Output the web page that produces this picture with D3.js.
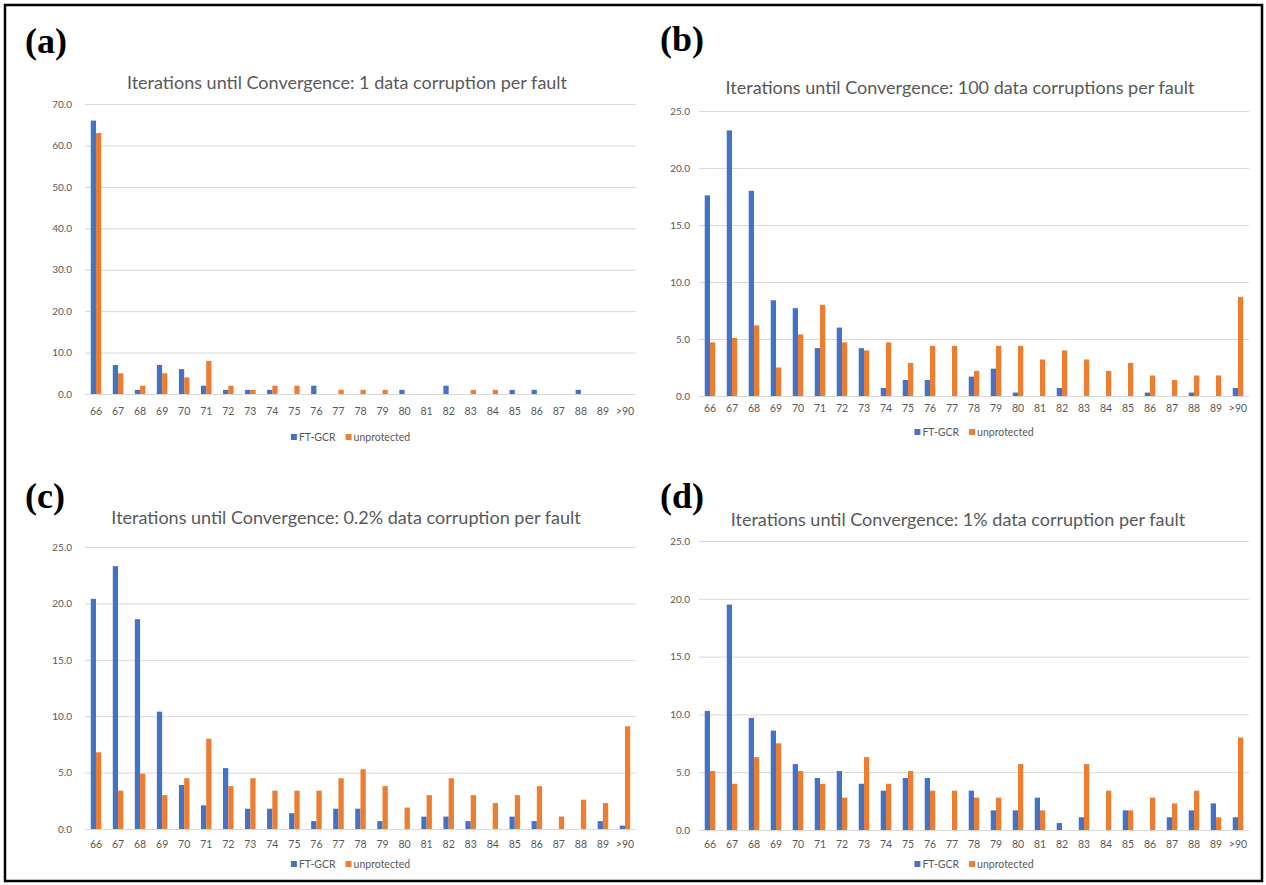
<!DOCTYPE html>
<html>
<head>
<meta charset="utf-8">
<script src="https://cdn.jsdelivr.net/npm/d3@7"></script>
<style>
  html, body { margin: 0; padding: 0; background: #fff; }
  svg { display: block; }
  .tick text { font-family: Lato, "Open Sans", sans-serif; fill: #595959; }
</style>
</head>
<body>
<svg id="fig" width="1266" height="885"></svg>
<script>
// Iteration counts until convergence (histogram bins)
const categories = ["66","67","68","69","70","71","72","73","74","75","76","77","78","79","80","81","82","83","84","85","86","87","88","89",">90"];
const seriesNames = ["FT-GCR", "unprotected"];

// (a) 1 data corruption per fault
const ftGcrA       = [66, 7, 1, 7, 6, 2, 1, 1, 1, 0, 2, 0, 0, 0, 1, 0, 2, 0, 0, 1, 1, 0, 1, 0, 0];
const unprotectedA = [63, 5, 2, 5, 4, 8, 2, 1, 2, 2, 0, 1, 1, 1, 0, 0, 0, 1, 1, 0, 0, 0, 0, 0, 0];

// (b) 100 data corruptions per fault
const ftGcrB       = [17.6, 23.3, 18.0, 8.4, 7.7, 4.2, 6.0, 4.2, 0.7, 1.4, 1.4, 0, 1.7, 2.4, 0.3, 0, 0.7, 0, 0, 0, 0.3, 0, 0.3, 0, 0.7];
const unprotectedB = [4.7, 5.1, 6.2, 2.5, 5.4, 8.0, 4.7, 4.0, 4.7, 2.9, 4.4, 4.4, 2.2, 4.4, 4.4, 3.2, 4.0, 3.2, 2.2, 2.9, 1.8, 1.4, 1.8, 1.8, 8.7];

// (c) 0.2% data corruption per fault
const ftGcrC       = [20.4, 23.3, 18.6, 10.4, 3.9, 2.1, 5.4, 1.8, 1.8, 1.4, 0.7, 1.8, 1.8, 0.7, 0, 1.1, 1.1, 0.7, 0, 1.1, 0.7, 0, 0, 0.7, 0.3];
const unprotectedC = [6.8, 3.4, 4.9, 3.0, 4.5, 8.0, 3.8, 4.5, 3.4, 3.4, 3.4, 4.5, 5.3, 3.8, 1.9, 3.0, 4.5, 3.0, 2.3, 3.0, 3.8, 1.1, 2.6, 2.3, 9.1];

// (d) 1% data corruption per fault
const ftGcrD       = [10.3, 19.5, 9.7, 8.6, 5.7, 4.5, 5.1, 4.0, 3.4, 4.5, 4.5, 0, 3.4, 1.7, 1.7, 2.8, 0.6, 1.1, 0, 1.7, 0, 1.1, 1.7, 2.3, 1.1];
const unprotectedD = [5.1, 4.0, 6.3, 7.5, 5.1, 4.0, 2.8, 6.3, 4.0, 5.1, 3.4, 3.4, 2.8, 2.8, 5.7, 1.7, 0, 5.7, 3.4, 1.7, 2.8, 2.3, 3.4, 1.1, 8.0];

const panelLetters = ["(a)", "(b)", "(c)", "(d)"];
const chartTitles = [
  "Iterations until Convergence: 1 data corruption per fault",
  "Iterations until Convergence: 100 data corruptions per fault",
  "Iterations until Convergence: 0.2% data corruption per fault",
  "Iterations until Convergence: 1% data corruption per fault"
];
const yMaxima = [70, 25, 25, 25];
const yTickSteps = [10, 5, 5, 5];

const colors = { "FT-GCR": "#4472C4", "unprotected": "#ED7D31" };

// Page geometry for each sub-figure
const layout = [
  { x0: 85,  x1: 636,  yTop: 104, yBot: 394, yPad: 13, letterX: 25,  letterY: 53,  titleX: 347, titleY: 89,  tickDy: 21, legendY: 437 },
  { x0: 699, x1: 1249, yTop: 111, yBot: 396, yPad: 9,  letterX: 660, letterY: 51,  titleX: 960, titleY: 94,  tickDy: 16, legendY: 432 },
  { x0: 85,  x1: 636,  yTop: 547, yBot: 829, yPad: 13, letterX: 25,  letterY: 508, titleX: 346, titleY: 524, tickDy: 19, legendY: 864 },
  { x0: 699, x1: 1249, yTop: 541, yBot: 830, yPad: 9,  letterX: 660, letterY: 508, titleX: 958, titleY: 526, tickDy: 18, legendY: 864 }
];

const seriesData = [
  [ftGcrA, unprotectedA],
  [ftGcrB, unprotectedB],
  [ftGcrC, unprotectedC],
  [ftGcrD, unprotectedD]
];

const svg = d3.select("#fig");
svg.append("rect").attr("width", 1266).attr("height", 885).attr("fill", "#fff");

seriesData.forEach((pair, i) => {
  const L = layout[i];
  const g = svg.append("g");

  const x = d3.scaleBand().domain(categories).range([L.x0, L.x1])
    .paddingInner(0.522).paddingOuter(0.261);
  const xs = d3.scaleBand().domain(seriesNames).range([0, x.bandwidth()]);
  const y = d3.scaleLinear().domain([0, yMaxima[i]]).range([L.yBot, L.yTop]);

  // value axis with horizontal gridlines
  const yAxis = d3.axisLeft(y)
    .tickValues(d3.range(0, yMaxima[i] + 0.001, yTickSteps[i]))
    .tickFormat(d3.format(".1f"))
    .tickSize(-(L.x1 - L.x0))
    .tickPadding(L.yPad);
  const ya = g.append("g").attr("transform", `translate(${L.x0},0)`).call(yAxis);
  ya.select(".domain").remove();
  ya.selectAll(".tick line").attr("stroke", "#D9D9D9").attr("stroke-width", 1);
  ya.selectAll(".tick text").attr("font-size", 10);

  // bars
  const rows = categories.map((c, k) => ({ c, values: seriesNames.map((s, j) => ({ s, v: pair[j][k] })) }));
  g.append("g").selectAll("g").data(rows).join("g")
    .attr("transform", d => `translate(${x(d.c)},0)`)
    .selectAll("rect").data(d => d.values).join("rect")
      .attr("x", d => xs(d.s))
      .attr("width", xs.bandwidth())
      .attr("y", d => y(d.v))
      .attr("height", d => y(0) - y(d.v))
      .attr("fill", d => colors[d.s]);

  // category axis
  const xAxis = d3.axisBottom(x).tickSize(0).tickPadding(0);
  const xa = g.append("g").attr("transform", `translate(0,${L.yBot + L.tickDy - 4})`).call(xAxis);
  xa.select(".domain").remove();
  xa.selectAll(".tick text").attr("font-size", 10.5).attr("dy", "0.71em").attr("y", -3);

  // chart title
  g.append("text")
    .attr("x", L.titleX).attr("y", L.titleY)
    .attr("text-anchor", "middle")
    .attr("font-family", "Lato, 'Open Sans', sans-serif")
    .attr("font-size", 18)
    .attr("fill", "#595959")
    .text(chartTitles[i]);

  // sub-figure letter
  g.append("text")
    .attr("x", L.letterX).attr("y", L.letterY)
    .attr("font-family", "'Liberation Serif', 'Times New Roman', serif")
    .attr("font-weight", "bold")
    .attr("font-size", 36)
    .attr("fill", "#000")
    .text(panelLetters[i]);

  // legend
  const lg = g.append("g");
  let cx = 0;
  seriesNames.forEach(s => {
    const item = lg.append("g");
    item.append("rect").attr("width", 6).attr("height", 6).attr("y", -3).attr("fill", colors[s]);
    const t = item.append("text").attr("x", 8).attr("y", 3.5)
      .attr("font-family", "Lato, 'Open Sans', sans-serif")
      .attr("font-size", 10.5).attr("fill", "#595959").text(s);
    const w = 8 + t.node().getComputedTextLength();
    item.attr("transform", `translate(${cx},0)`);
    cx += w + 10;
  });
  const total = cx - 10;
  lg.attr("transform", `translate(${(L.x0 + L.x1) / 2 - total / 2 + (i % 2 === 0 ? -10 : 0)},${L.legendY})`);
});

// outer frame
svg.append("rect")
  .attr("x", 5).attr("y", 5).attr("width", 1257).attr("height", 876)
  .attr("fill", "none").attr("stroke", "#000").attr("stroke-width", 2.5);
</script>
</body>
</html>
